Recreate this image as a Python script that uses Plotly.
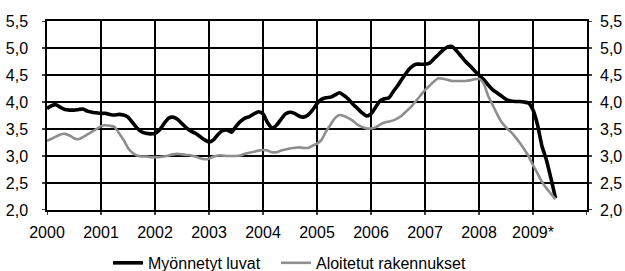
import plotly.graph_objects as go

# Monthly data, Jan 2000 .. Jun 2009
start_year = 2000
myonnetyt = [
    3.88, 3.93, 3.95, 3.90, 3.86, 3.85, 3.85, 3.86, 3.87, 3.83, 3.81, 3.80,  # 2000
    3.79, 3.79, 3.77, 3.76, 3.77, 3.76, 3.72, 3.62, 3.52, 3.45, 3.42, 3.41,  # 2001
    3.42, 3.48, 3.60, 3.70, 3.72, 3.68, 3.60, 3.52, 3.46, 3.42, 3.36, 3.30,  # 2002
    3.26, 3.30, 3.40, 3.47, 3.48, 3.44, 3.55, 3.64, 3.70, 3.73, 3.78, 3.82,  # 2003
    3.78, 3.62, 3.52, 3.57, 3.68, 3.78, 3.81, 3.79, 3.74, 3.72, 3.76, 3.85,  # 2004
    3.97, 4.05, 4.08, 4.09, 4.13, 4.17, 4.12, 4.05, 3.96, 3.88, 3.80, 3.74,  # 2005
    3.78, 3.90, 4.02, 4.06, 4.08, 4.20, 4.31, 4.44, 4.56, 4.65, 4.70, 4.70,  # 2006
    4.70, 4.72, 4.80, 4.88, 4.96, 5.02, 5.03, 4.95, 4.85, 4.75, 4.67, 4.58,  # 2007
    4.50, 4.42, 4.32, 4.23, 4.17, 4.11, 4.05, 4.02, 4.01, 4.01, 4.00, 3.98,  # 2008
    3.85, 3.58, 3.18, 2.92, 2.58, 2.22,                                      # 2009*
]
aloitetut = [
    3.28, 3.32, 3.36, 3.40, 3.41, 3.38, 3.33, 3.31, 3.35, 3.40, 3.45, 3.50,  # 2000
    3.55, 3.57, 3.56, 3.54, 3.42, 3.30, 3.15, 3.06, 3.01, 2.99, 2.99, 2.98,  # 2001
    2.98, 2.98, 2.99, 3.01, 3.03, 3.04, 3.03, 3.02, 3.01, 2.99, 2.96, 2.94,  # 2002
    2.95, 2.99, 3.01, 3.01, 3.00, 3.00, 3.00, 3.01, 3.04, 3.06, 3.08, 3.10,  # 2003
    3.11, 3.10, 3.07, 3.07, 3.10, 3.12, 3.14, 3.15, 3.16, 3.15, 3.15, 3.19,  # 2004
    3.23, 3.30, 3.45, 3.58, 3.70, 3.76, 3.74, 3.70, 3.65, 3.58, 3.54, 3.51,  # 2005
    3.51, 3.53, 3.58, 3.62, 3.64, 3.66, 3.70, 3.76, 3.84, 3.92, 4.02, 4.12,  # 2006
    4.22, 4.30, 4.38, 4.44, 4.43, 4.41, 4.39, 4.39, 4.39, 4.39, 4.40, 4.42,  # 2007
    4.43, 4.35, 4.12, 3.95, 3.78, 3.63, 3.53, 3.45, 3.36, 3.25, 3.13, 3.00,  # 2008
    2.83, 2.68, 2.52, 2.40, 2.30, 2.20,                                      # 2009*
]
year_ticks = [2000, 2001, 2002, 2003, 2004, 2005, 2006, 2007, 2008, 2009]
year_labels = ["2000", "2001", "2002", "2003", "2004", "2005", "2006", "2007", "2008", "2009*"]
x_range = [2000, 2010]
y_range = [2.0, 5.5]
y_ticks = [2.0, 2.5, 3.0, 3.5, 4.0, 4.5, 5.0, 5.5]
y_labels = ["2,0", "2,5", "3,0", "3,5", "4,0", "4,5", "5,0", "5,5"]
series_names = ["Myönnetyt luvat", "Aloitetut rakennukset"]

x1 = [start_year + i / 12 for i in range(len(myonnetyt))]
x2 = [start_year + i / 12 for i in range(len(aloitetut))]

FONT = "Liberation Sans, Arial, sans-serif"
font = dict(family=FONT, color="black", size=16)
W, H = 625, 271
M = dict(l=47, r=38, t=21, b=61)
plot_w = W - M["l"] - M["r"]
plot_h = H - M["t"] - M["b"]
TICK = 5    # visible tick length, px
LW = 1.5    # grid line width, px
SLANT = 2e-4  # tiny slant (in years) so no segment is exactly vertical

fig = go.Figure()

# vertical year gridlines drawn as a background line trace (under the data)
gx, gy = [], []
for yr in year_ticks[1:]:
    gx += [yr, yr + SLANT, None]
    gy += [y_range[0], y_range[1], None]
fig.add_trace(go.Scatter(x=gx, y=gy, mode="lines", showlegend=False, hoverinfo="skip",
                         line=dict(color="black", width=LW)))

fig.add_trace(go.Scatter(x=x1, y=myonnetyt, mode="lines", name=series_names[0], legend="legend",
                         line=dict(color="black", width=3.6, shape="spline", smoothing=0.6)))
fig.add_trace(go.Scatter(x=x2, y=aloitetut, mode="lines", name=series_names[1], legend="legend2",
                         line=dict(color="#8e8e8e", width=2.6, shape="spline", smoothing=0.6)))

# small outside ticks below the x axis
for yr in year_ticks + [x_range[1]]:
    fig.add_shape(type="rect", xref="x", yref="paper",
                  x0=yr - (LW / 2) * (x_range[1] - x_range[0]) / plot_w,
                  x1=yr + (LW / 2) * (x_range[1] - x_range[0]) / plot_w,
                  y0=-TICK / plot_h, y1=0,
                  fillcolor="black", line=dict(width=0), layer="above")
# small outside ticks on both y sides
for v in y_ticks:
    fig.add_shape(type="line", xref="paper", yref="y", x0=-TICK / plot_w, x1=0, y0=v, y1=v,
                  line=dict(color="black", width=LW), layer="above")
    fig.add_shape(type="line", xref="paper", yref="y", x0=1, x1=1 + TICK / plot_w, y0=v, y1=v,
                  line=dict(color="black", width=LW), layer="above")

# right-hand axis labels
for v, lab in zip(y_ticks, y_labels):
    fig.add_annotation(x=1, xref="paper", y=v, yref="y", text=lab, showarrow=False,
                       xanchor="left", yanchor="middle", xshift=11,
                       font=dict(size=16, family=FONT, color="black"))

legend_common = dict(orientation="h", xanchor="left", y=-0.28, yanchor="middle",
                     font=dict(size=16, color="black", family=FONT),
                     bgcolor="rgba(0,0,0,0)")

fig.update_layout(
    width=W, height=H,
    margin=dict(**M, autoexpand=False),
    paper_bgcolor="white", plot_bgcolor="white",
    font=font,
    showlegend=True,
    legend=dict(x=0.113, **legend_common),
    legend2=dict(x=0.424, **legend_common),
    xaxis=dict(type="linear", range=x_range, tickvals=year_ticks, ticktext=year_labels,
               showgrid=True, gridcolor="black", gridwidth=LW,
               showline=True, linecolor="black", linewidth=LW, mirror=True,
               ticks="outside", ticklen=7, tickcolor="rgba(0,0,0,0)",
               zeroline=False, tickfont=dict(size=16, family=FONT, color="black")),
    yaxis=dict(type="linear", range=y_range, tickvals=y_ticks, ticktext=y_labels,
               showgrid=True, gridcolor="black", gridwidth=LW,
               showline=True, linecolor="black", linewidth=LW, mirror=True,
               ticks="outside", ticklen=14, tickcolor="rgba(0,0,0,0)",
               zeroline=False, tickfont=dict(size=16, family=FONT, color="black")),
)

fig.write_html("out.html", config={"displayModeBar": False},
               post_script="document.body.style.margin='0';document.body.style.overflow='hidden';")
